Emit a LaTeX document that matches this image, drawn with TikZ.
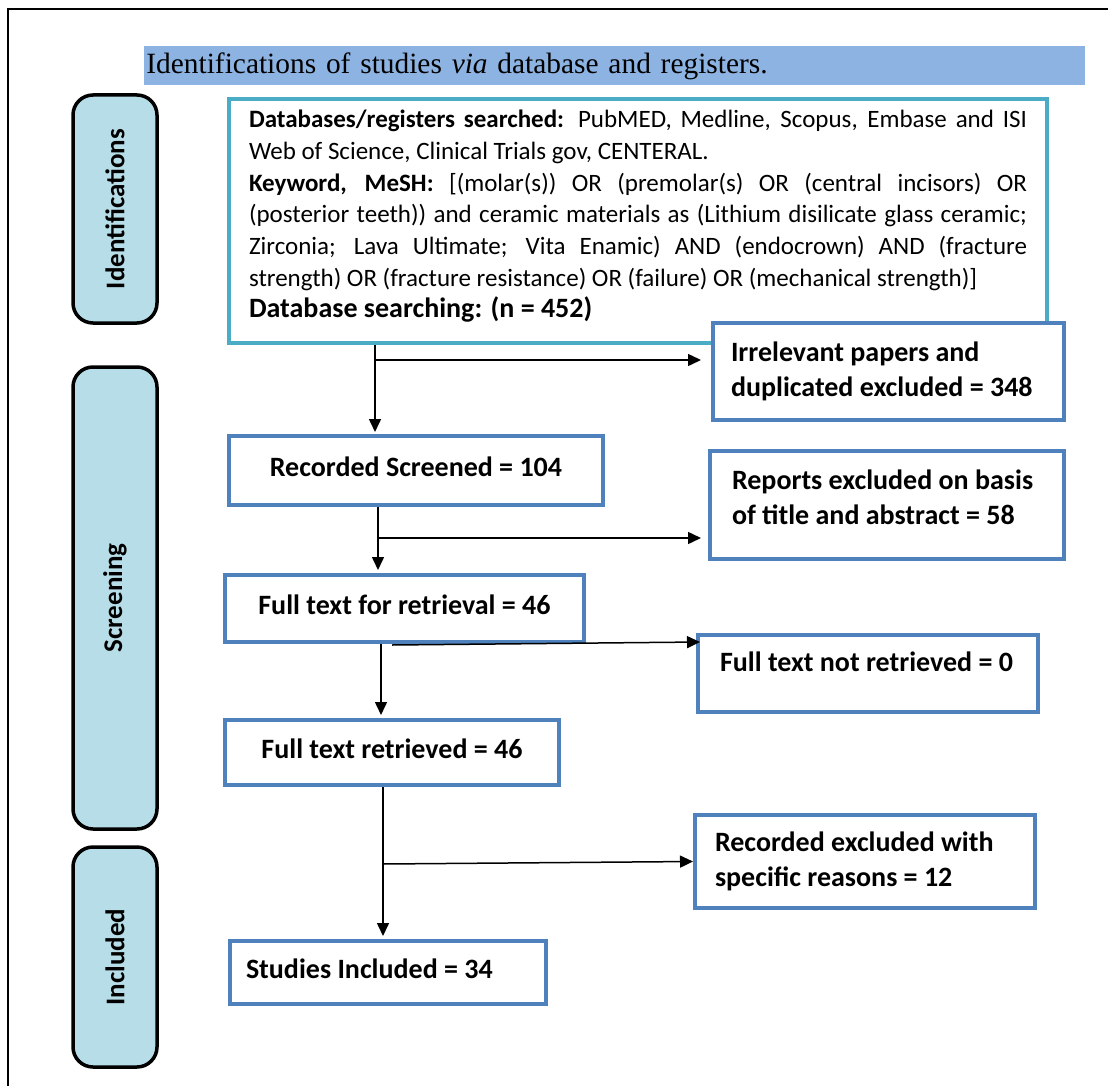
\documentclass[tikz,border=0pt]{standalone}
\usepackage{fontspec}
\setmainfont{Carlito}
\newfontfamily\titlefont{Liberation Serif}
\usetikzlibrary{arrows.meta}
\tikzset{phase/.style = {draw, line width=1.75pt, rounded corners=10pt, fill=phasefill,
                         rotate=90, inner sep=0, font=\bfseries\fontsize{13.5}{16}\selectfont}}
\tikzset{flowbox/.style = {draw=boxblue, line width=2pt, fill=white, anchor=north west,
                           inner sep=0, font=\bfseries\fontsize{14}{17.5}\selectfont}}
\tikzset{oneline/.style = {text height=9pt, text depth=3.5pt}}
\tikzset{flow/.style = {line width=0.75pt, -{Triangle[length=6.5pt, width=6pt]}}}
\definecolor{bandblue}{HTML}{8DB3E2}
\definecolor{phasefill}{HTML}{B7DEE8}
\definecolor{searchteal}{HTML}{4BACC6}
\definecolor{boxblue}{HTML}{4F81BD}

\begin{document}
\begin{tikzpicture}[x=0.5pt, y=-0.5pt]
    \useasboundingbox (0, 0) rectangle (1108, 1086);
    \draw [line width=1pt] (8, 1086) -- (8, 9) -- (1108, 9);

    \node (band) [fill=bandblue, anchor=north west, inner xsep=1pt, inner ysep=0, text width=468.5pt,
                  minimum height=19.5pt, align=left, font=\titlefont\fontsize{14.7}{18}\selectfont]
      at (144, 46) {Identifications of studies \textit{via} database and registers.};

    \foreach \name/\y/\len in {Identifications/209/114, Screening/598/231, Included/957/110} {
      \node (\name) [phase, minimum width=\len pt, minimum height=42pt] at (115, \y) {\name};
    }

    \node (search) [draw=searchteal, line width=2pt, fill=white, anchor=north west, inner xsep=10pt,
                    inner ysep=0, text width=389pt, minimum height=122pt, align=justify,
                    font=\fontsize{12.5}{15.85}\selectfont] at (227, 97)
      {\textbf{Databases/registers searched:} PubMED, Medline, Scopus, Embase and ISI\linebreak
       Web of Science, Clinical Trials gov, CENTERAL.\\
       \textbf{Keyword, MeSH:} [(molar(s)) OR (premolar(s) OR (central incisors) OR\linebreak
       (posterior teeth)) and ceramic materials as (Lithium disilicate glass ceramic;\linebreak
       Zirconia; Lava Ultimate; Vita Enamic) AND (endocrown) AND (fracture\linebreak
       strength) OR (fracture resistance) OR (failure) OR (mechanical strength)]\\
       {\fontsize{14}{15.85}\selectfont\bfseries Database searching: (n = 452)}\rule[-7pt]{0pt}{7pt}};

    \node (irrelevant) [flowbox, minimum width=175.5pt, minimum height=48.5pt, inner xsep=9pt,
                        text width=157.5pt, align=flush left] at (711, 321)
      {Irrelevant papers and\\ duplicated excluded = 348};
    \node (screened) [flowbox, oneline, minimum width=187pt, minimum height=34.5pt] at (227, 434)
      {Recorded Screened = 104};
    \node (reports) [flowbox, minimum width=177pt, minimum height=54pt, inner xsep=11pt,
                     text width=155pt, align=flush left] at (708, 449)
      {Reports excluded on basis\\ of title and abstract = 58\rule[-8pt]{0pt}{8pt}};
    \node (retrieval) [flowbox, oneline, minimum width=179.5pt, minimum height=33.5pt] at (223, 573)
      {Full text for retrieval = 46};
    \node (notretrieved) [flowbox, minimum width=170pt, minimum height=38.5pt, inner xsep=11pt,
                          text width=148pt, align=flush left, text height=10pt, text depth=12pt] at (696, 633)
      {\mbox{Full text not retrieved = 0}};
    \node (retrieved) [flowbox, oneline, minimum width=167pt, minimum height=32.5pt] at (223, 718)
      {Full text retrieved = 46};
    \node (specific) [flowbox, minimum width=170pt, minimum height=46.5pt, inner xsep=10pt,
                      text width=150pt, align=flush left] at (693, 813)
      {Recorded excluded with\\ specific reasons = 12};
    \node (included) [flowbox, oneline, minimum width=158pt, minimum height=31.5pt, inner xsep=8pt,
                      text width=142pt, align=flush left] at (228, 939)
      {Studies Included = 34};

    \coordinate (j1) at (375, 360);
    \draw [flow, shorten >=1pt] (search.south -| j1) -- (screened.north -| j1);
    \draw [flow, shorten >=5pt] (j1) -- (irrelevant.west |- j1);

    \coordinate (j2) at (378, 538);
    \draw [flow, shorten >=1.5pt] (screened.south -| j2) -- (retrieval.north -| j2);
    \draw [flow, shorten >=3.5pt] (j2) -- (reports.west |- j2);

    \coordinate (j3) at (381, 680);
    \coordinate (b3) at (392, 645);
    \coordinate (t3) at (700, 642);
    \draw [flow, shorten >=1.5pt] (retrieval.south -| j3) -- (retrieved.north -| j3);
    \draw [flow] (b3) -- (t3);

    \coordinate (j4) at (383, 864);
    \draw [flow, shorten >=1.5pt] (retrieved.south -| j4) -- (included.north -| j4);
    \draw [flow] (j4) -- (specific.west);
\end{tikzpicture}
\end{document}
